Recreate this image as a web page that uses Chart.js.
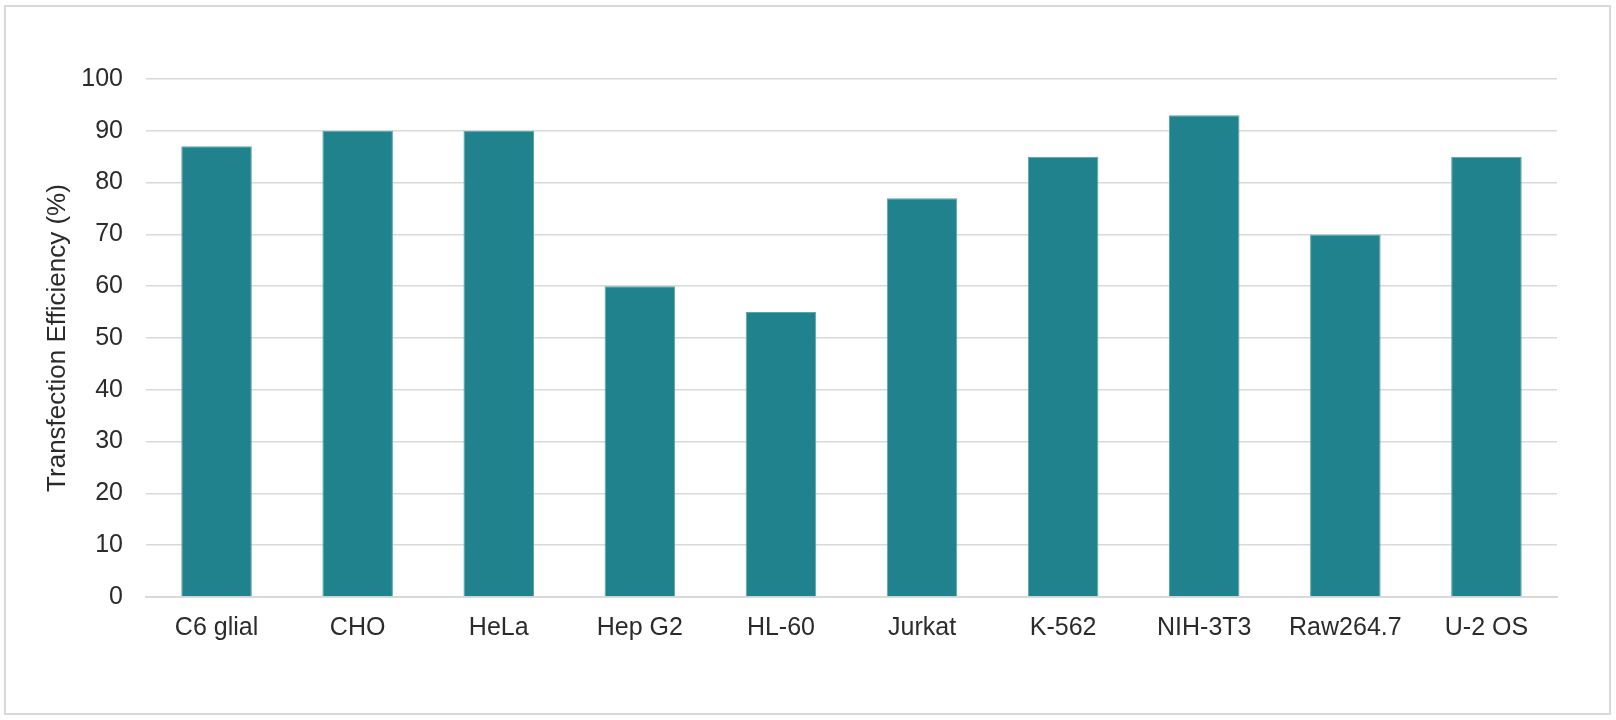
<!DOCTYPE html>
<html>
<head>
<meta charset="utf-8">
<script src="https://cdn.jsdelivr.net/npm/chart.js@4/dist/chart.umd.min.js"></script>
<style>
  html, body { margin: 0; padding: 0; background: #fff; }
  #wrap { position: relative; width: 1616px; height: 720px; }
  #frame { position: absolute; left: 4px; top: 5px; width: 1603px; height: 706px;
           border: 2px solid #d9d9d9; pointer-events: none; }
</style>
</head>
<body>
<div id="wrap">
  <canvas id="effChart" width="1616" height="720"></canvas>
  <div id="frame"></div>
</div>
<script>
  // cell lines and their transfection efficiency (%)
  var cellLines = ["C6 glial", "CHO", "HeLa", "Hep G2", "HL-60", "Jurkat", "K-562", "NIH-3T3", "Raw264.7", "U-2 OS"];
  var efficiency = [87, 90, 90, 60, 55, 77, 85, 93, 70, 85];
  var yTicks = [0, 10, 20, 30, 40, 50, 60, 70, 80, 90, 100];

  var fontFamily = "'Liberation Sans', Arial, sans-serif";
  var textColor = "#2b2b2b";
  var gridColor = "#d9d9d9";

  var effChart = new Chart("effChart", {
    type: 'bar',
    data: {
      labels: cellLines,
      datasets: [{
        data: efficiency,
        backgroundColor: "#1f828c",
        borderColor: "#5aa5ad",
        borderWidth: 1,
        barPercentage: 0.5,
        categoryPercentage: 1.0
      }]
    },
    options: {
      responsive: false,
      animation: false,
      layout: { padding: { left: 0, top: 79, right: 59, bottom: 0 } },
      plugins: {
        legend: { display: false },
        tooltip: { enabled: false }
      },
      scales: {
        x: {
          grid: { display: false, drawTicks: false },
          border: { display: true, color: gridColor, width: 2 },
          ticks: {
            color: textColor,
            padding: 16,
            maxRotation: 0,
            font: { family: fontFamily, size: 25 }
          },
          afterFit: function (scale) { scale.height = 123; }
        },
        y: {
          min: 0,
          max: 100,
          afterBuildTicks: function (scale) {
            scale.ticks = yTicks.map(function (v) { return { value: v }; });
          },
          grid: { color: gridColor, lineWidth: 1.5, drawTicks: false },
          border: { display: false },
          ticks: {
            color: textColor,
            padding: 23,
            font: { family: fontFamily, size: 25 }
          },
          title: {
            display: true,
            text: "Transfection Efficiency (%)",
            color: textColor,
            padding: { top: 42, bottom: 0 },
            font: { family: fontFamily, size: 26 }
          },
          afterFit: function (scale) { scale.width = 146; }
        }
      }
    }
  });
</script>
</body>
</html>
